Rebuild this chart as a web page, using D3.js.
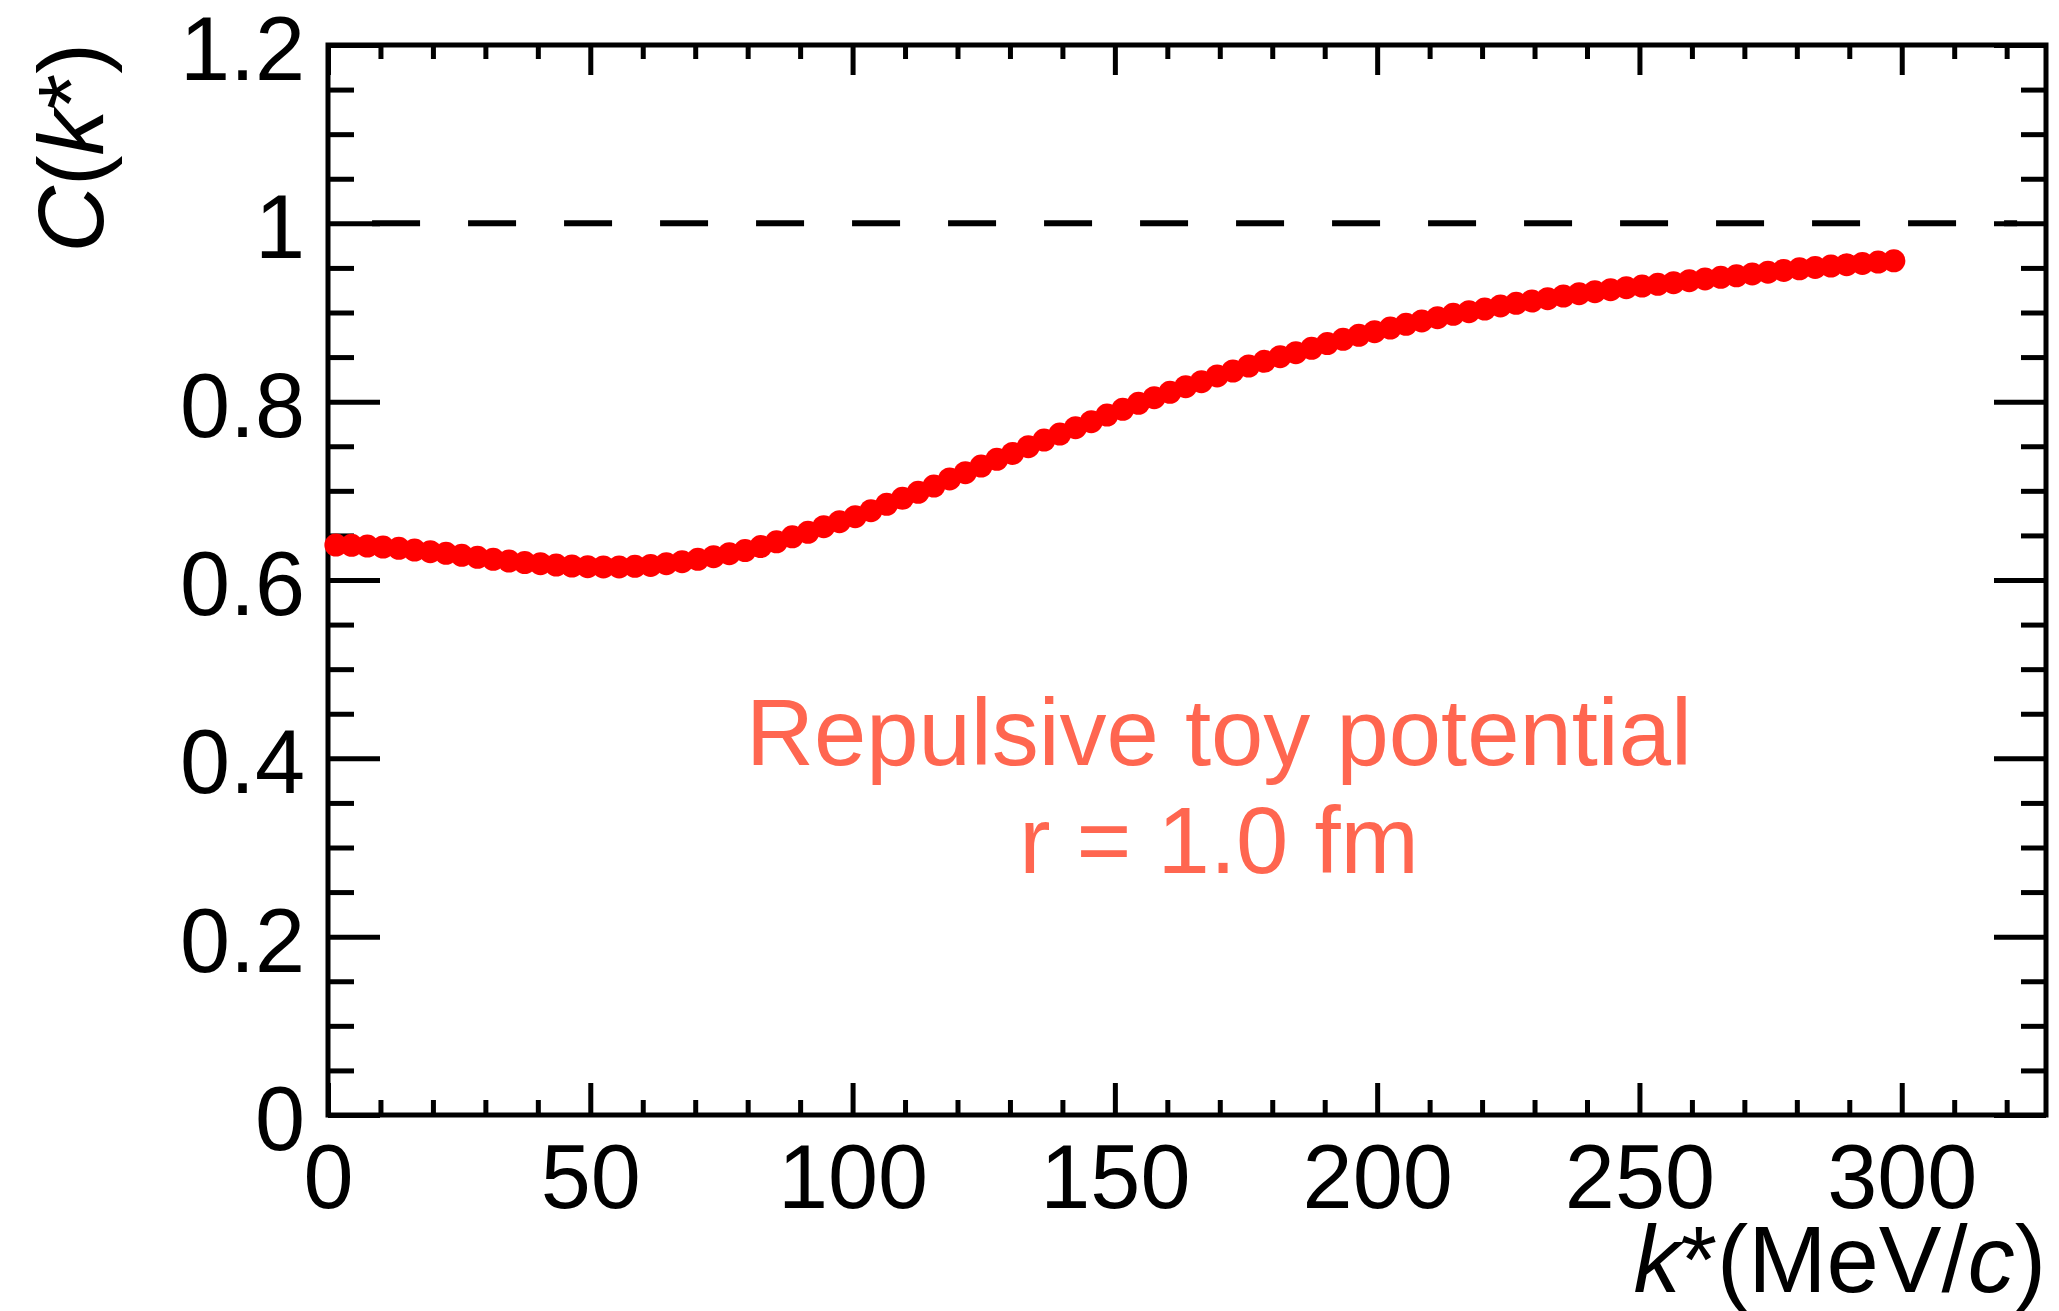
<!DOCTYPE html>
<html>
<head>
<meta charset="utf-8">
<script src="https://cdn.jsdelivr.net/npm/d3@7"></script>
<style>
  html, body { margin: 0; padding: 0; background: #ffffff; }
  svg { display: block; }
  text { font-family: "Liberation Sans", Arial, Helvetica, sans-serif; }
</style>
</head>
<body>
<svg id="chart" width="2059" height="1311"></svg>
<script>
// Relative momentum k* (MeV/c), bin centres of 3 MeV/c bins
const kStar = [
  1.5, 4.5, 7.5, 10.5, 13.5, 16.5, 19.5, 22.5, 25.5, 28.5,
  31.5, 34.5, 37.5, 40.5, 43.5, 46.5, 49.5, 52.5, 55.5, 58.5,
  61.5, 64.5, 67.5, 70.5, 73.5, 76.5, 79.5, 82.5, 85.5, 88.5,
  91.5, 94.5, 97.5, 100.5, 103.5, 106.5, 109.5, 112.5, 115.5, 118.5,
  121.5, 124.5, 127.5, 130.5, 133.5, 136.5, 139.5, 142.5, 145.5, 148.5,
  151.5, 154.5, 157.5, 160.5, 163.5, 166.5, 169.5, 172.5, 175.5, 178.5,
  181.5, 184.5, 187.5, 190.5, 193.5, 196.5, 199.5, 202.5, 205.5, 208.5,
  211.5, 214.5, 217.5, 220.5, 223.5, 226.5, 229.5, 232.5, 235.5, 238.5,
  241.5, 244.5, 247.5, 250.5, 253.5, 256.5, 259.5, 262.5, 265.5, 268.5,
  271.5, 274.5, 277.5, 280.5, 283.5, 286.5, 289.5, 292.5, 295.5, 298.5
];

// Correlation function C(k*) for the repulsive toy potential, r = 1.0 fm
const corr = [
  0.6392, 0.6389, 0.6381, 0.6370, 0.6355, 0.6336, 0.6318, 0.6299, 0.6277, 0.6255,
  0.6232, 0.6213, 0.6196, 0.6183, 0.6168, 0.6157, 0.6150, 0.6146, 0.6146, 0.6153,
  0.6164, 0.6183, 0.6206, 0.6232, 0.6262, 0.6295, 0.6330, 0.6375, 0.6428, 0.6484,
  0.6535, 0.6598, 0.6654, 0.6710, 0.6778, 0.6849, 0.6916, 0.6983, 0.7054, 0.7133,
  0.7204, 0.7278, 0.7353, 0.7420, 0.7495, 0.7570, 0.7637, 0.7708, 0.7776, 0.7850,
  0.7914, 0.7981, 0.8045, 0.8105, 0.8168, 0.8224, 0.8288, 0.8344, 0.8400, 0.8452,
  0.8505, 0.8550, 0.8598, 0.8651, 0.8699, 0.8744, 0.8785, 0.8826, 0.8867, 0.8905,
  0.8942, 0.8979, 0.9009, 0.9039, 0.9073, 0.9103, 0.9129, 0.9155, 0.9185, 0.9211,
  0.9234, 0.9256, 0.9278, 0.9297, 0.9316, 0.9335, 0.9357, 0.9376, 0.9394, 0.9412,
  0.9432, 0.9452, 0.9472, 0.9490, 0.9506, 0.9521, 0.9536, 0.9550, 0.9566, 0.9580
];

// Axis ranges and ticks
const xDomain = [0, 327.5];
const yDomain = [0, 1.2];
const xMajorTicks = [0, 50, 100, 150, 200, 250, 300];
const xTickLabels = ["0", "50", "100", "150", "200", "250", "300"];
const xMinorTicks = [10, 20, 30, 40, 60, 70, 80, 90, 110, 120, 130, 140, 160, 170, 180, 190,
                     210, 220, 230, 240, 260, 270, 280, 290, 310, 320];
const yMajorTicks = [0, 0.2, 0.4, 0.6, 0.8, 1.0, 1.2];
const yTickLabels = ["0", "0.2", "0.4", "0.6", "0.8", "1", "1.2"];
const yMinorTicks = [0.05, 0.1, 0.15, 0.25, 0.3, 0.35, 0.45, 0.5, 0.55, 0.65, 0.7, 0.75,
                     0.85, 0.9, 0.95, 1.05, 1.1, 1.15];

// Reference line C = 1 (dashed), its k* extent
const unityLevel = 1.0;
const unityExtent = [8.4, 322];

const annotationLines = ["Repulsive toy potential", "r = 1.0 fm"];

// Layout
const frame = { left: 328, right: 2046, top: 45, bottom: 1115 };
const fontSize = 90;
const stroke = 5;

const svg = d3.select("#chart");

const x = d3.scaleLinear().domain(xDomain).range([frame.left, frame.right]);
const y = d3.scaleLinear().domain(yDomain).range([frame.bottom, frame.top]);

// Axes: ticks point inward on all four sides
function styleAxis(g) {
  g.select(".domain").remove();
  g.selectAll(".tick line").attr("stroke", "#000").attr("stroke-width", stroke);
}

// bottom
svg.append("g")
  .attr("transform", `translate(0,${frame.bottom})`)
  .call(d3.axisBottom(x).tickValues(xMinorTicks).tickSize(-15).tickFormat(""))
  .call(styleAxis);
const xAxisG = svg.append("g")
  .attr("transform", `translate(0,${frame.bottom})`)
  .call(d3.axisBottom(x).tickValues(xMajorTicks).tickSize(-32)
        .tickFormat((d, i) => xTickLabels[i]))
  .call(styleAxis);
xAxisG.selectAll(".tick text")
  .attr("y", 93).attr("dy", null)
  .attr("font-size", fontSize)
  .attr("font-family", "Liberation Sans, Arial, sans-serif")
  .attr("fill", "#000");

// top
svg.append("g")
  .attr("transform", `translate(0,${frame.top})`)
  .call(d3.axisTop(x).tickValues(xMinorTicks).tickSize(-14).tickFormat(""))
  .call(styleAxis);
svg.append("g")
  .attr("transform", `translate(0,${frame.top})`)
  .call(d3.axisTop(x).tickValues(xMajorTicks).tickSize(-30).tickFormat(""))
  .call(styleAxis);

// left
svg.append("g")
  .attr("transform", `translate(${frame.left},0)`)
  .call(d3.axisLeft(y).tickValues(yMinorTicks).tickSize(-26).tickFormat(""))
  .call(styleAxis);
const yAxisG = svg.append("g")
  .attr("transform", `translate(${frame.left},0)`)
  .call(d3.axisLeft(y).tickValues(yMajorTicks).tickSize(-52)
        .tickFormat((d, i) => yTickLabels[i]))
  .call(styleAxis);
yAxisG.selectAll(".tick text")
  .attr("x", -23).attr("dy", "0.385em")
  .attr("font-size", fontSize)
  .attr("font-family", "Liberation Sans, Arial, sans-serif")
  .attr("fill", "#000");

// right
svg.append("g")
  .attr("transform", `translate(${frame.right},0)`)
  .call(d3.axisRight(y).tickValues(yMinorTicks).tickSize(-25).tickFormat(""))
  .call(styleAxis);
svg.append("g")
  .attr("transform", `translate(${frame.right},0)`)
  .call(d3.axisRight(y).tickValues(yMajorTicks).tickSize(-52).tickFormat(""))
  .call(styleAxis);

// dashed unity line
svg.append("line")
  .attr("x1", x(unityExtent[0])).attr("x2", x(unityExtent[1]))
  .attr("y1", y(unityLevel)).attr("y2", y(unityLevel))
  .attr("stroke", "#000").attr("stroke-width", 6)
  .attr("stroke-dasharray", "48 48");

// frame
svg.append("rect")
  .attr("x", frame.left).attr("y", frame.top)
  .attr("width", frame.right - frame.left).attr("height", frame.bottom - frame.top)
  .attr("fill", "none").attr("stroke", "#000").attr("stroke-width", stroke);

// data points
svg.append("g")
  .selectAll("circle")
  .data(kStar.map((k, i) => [k, corr[i]]))
  .join("circle")
  .attr("cx", d => x(d[0]))
  .attr("cy", d => y(d[1]))
  .attr("r", 11.5)
  .attr("fill", "#ff0000");

// annotation
const note = svg.append("text")
  .attr("text-anchor", "middle")
  .attr("font-size", 94)
  .attr("fill", "#ff6650");
note.append("tspan").attr("x", 1219).attr("y", 765).text(annotationLines[0]);
note.append("tspan").attr("x", 1219).attr("y", 873).text(annotationLines[1]);

// x-axis title: k*(MeV/c)
const xTitle = svg.append("text")
  .attr("x", frame.right).attr("y", 1292)
  .attr("text-anchor", "end")
  .attr("font-size", 94)
  .attr("fill", "#000");
xTitle.append("tspan").attr("font-style", "italic").text("k");
xTitle.append("tspan").text("*(MeV/");
xTitle.append("tspan").attr("font-style", "italic").text("c");
xTitle.append("tspan").text(")");

// y-axis title: C(k*)
const yTitle = svg.append("text")
  .attr("transform", "translate(103,43) rotate(-90)")
  .attr("text-anchor", "end")
  .attr("font-size", 92)
  .attr("fill", "#000");
yTitle.append("tspan").attr("font-style", "italic").text("C");
yTitle.append("tspan").text("(");
yTitle.append("tspan").attr("font-style", "italic").text("k");
yTitle.append("tspan").text("*)");
</script>
</body>
</html>
